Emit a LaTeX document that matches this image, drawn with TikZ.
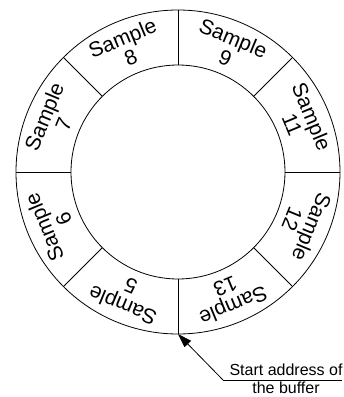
\documentclass[tikz,border=0pt]{standalone}
\usepackage{fontspec}
\setmainfont{Liberation Sans}
\usepackage{tikz}
\usetikzlibrary{arrows.meta, positioning}

\begin{document}
\begin{tikzpicture}[x=1pt, y=1pt, >={Triangle[length=14pt, width=9pt]}, line width=0.8pt,
  sample/.style={align=center, inner sep=0pt, font=\fontsize{21}{21}\selectfont},
  note/.style={inner sep=0pt, font=\fontsize{16}{18}\selectfont}]
  \useasboundingbox (-178,-225) rectangle (166,172);
  % Ring: outer r=162, inner r=107
  \draw (0,0) circle (162);
  \draw (0,0) circle (107);
  % Dividers every 45 degrees
  \foreach \a in {0,45,...,315}
    \draw (\a:107) -- (\a:162);
  % Labels, top of text facing outward
  \foreach \a/\n in {112.5/8, 67.5/9, 22.5/11, 337.5/12, 292.5/13, 247.5/5, 202.5/6, 157.5/7}
    \node[sample, rotate=\a-90] (s\n) at (\a:134.5) {Sample\\\n};
  % Start address pointer
  \coordinate (start) at (0,-162);
  \coordinate (elbow) at (45,-208);
  \coordinate (lineend) at (164,-208);
  \node[note, anchor=base] (addr) at (108,-203) {Start address of};
  \node[note, anchor=base] (buf) at (108,-221) {the buffer};
  \draw (lineend) -- (elbow);
  \draw[->] (elbow) -- (start);
\end{tikzpicture}
\end{document}
